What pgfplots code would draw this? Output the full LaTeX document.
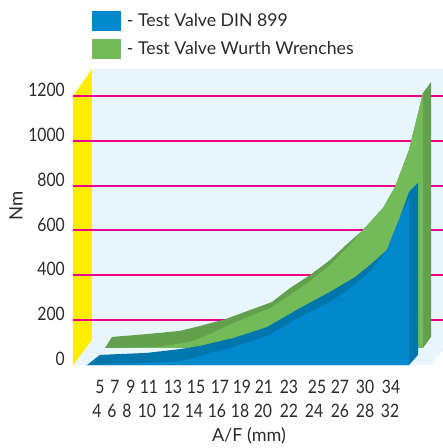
\documentclass[border=0pt]{standalone}
\usepackage{pgfplots}
\pgfplotsset{compat=1.18}
\usepackage{fontspec}
\setmainfont{Lato}
\newfontfamily\narrowf[FakeStretch=0.85]{Lato}
\definecolor{bgc}{HTML}{E8F5FD}
\definecolor{wallc}{HTML}{FFED00}
\definecolor{gridc}{HTML}{EC008C}
\definecolor{bluef}{HTML}{0088CC}
\definecolor{blued}{HTML}{0076AD}
\definecolor{greenf}{HTML}{72BB58}
\definecolor{greend}{HTML}{62A04D}
\definecolor{txt}{HTML}{2A2A2A}
\begin{document}
\begin{tikzpicture}[x=1pt,y=1pt]
\useasboundingbox (0,0) rectangle (443,448);
\begin{axis}[
  at={(73pt,83pt)}, anchor=south west,
  scale only axis, width=370pt, height=296pt,
  xmin=73, xmax=443, ymin=0, ymax=1320,
  axis line style={draw=none}, major tick length=0pt,
  clip=false,
  /pgf/number format/assume math mode=true,
  /pgf/number format/1000 sep={},
  ytick={0,200,400,600,800,1000,1200},
  yticklabel style={font=\narrowf\fontsize{18.5}{18.5}\selectfont, text=txt, anchor=east, xshift=-8pt, yshift=6pt, inner sep=0pt},
  xtick={100,115,131,149,173,196,220,242,264,289,317,340,365,391},
  xticklabels={5,7,9,11,13,15,17,19,21,23,25,27,30,34},
  extra x ticks={97,112,127,147,171,194,217,240,263,289,314,340,365,390},
  extra x tick labels={4,6,8,10,12,14,16,18,20,22,24,26,28,32},
  extra x tick style={xticklabel style={yshift=-24pt}},
  xticklabel style={font=\narrowf\fontsize{18.5}{18.5}\selectfont, text=txt, anchor=center, yshift=-22pt, inner sep=0pt},
  xlabel={A/F (mm)},
  xlabel style={font=\fontsize{18}{18}\selectfont, text=txt, at={(axis cs:249,0)}, anchor=center, yshift=-71pt, inner sep=0pt},
  ylabel={Nm},
  ylabel style={font=\fontsize{18.5}{18.5}\selectfont, text=txt, at={(axis cs:16,711)}, anchor=center, rotate=0, inner sep=0pt},
  legend style={at={(axis cs:92,1579)}, anchor=north west, draw=none, fill=none, inner sep=0pt, outer sep=0pt,
    font=\fontsize{17.7}{17.7}\selectfont, text=txt, row sep=8pt,
    nodes={inner sep=0pt, outer sep=0pt}},
  legend cell align=left,
  legend image code/.code={\fill[#1,draw=none] (0pt,-10pt) rectangle (29pt,10pt);},
]
\addlegendimage{bluef}
\addlegendentry{\hspace*{6pt}- Test Valve DIN 899}
\addlegendimage{greenf}
\addlegendentry{\hspace*{6pt}- Test Valve Wurth Wrenches}
% backdrop
\addplot[fill=bgc,draw=none,forget plot] coordinates {(92,1320)(443,1320)(443,67)(432,0)(73,0)(92,111)(92,1320)};
\addplot[fill=wallc,draw=none,forget plot] coordinates {(73,0)(73,1200)(92,1320)(92,111)(73,0)};
% gridlines
\addplot[color=gridc,line width=2pt,forget plot] coordinates {(73,200)(443,200)};
\addplot[color=gridc,line width=2pt,forget plot] coordinates {(73,400)(443,400)};
\addplot[color=gridc,line width=2pt,forget plot] coordinates {(73,600)(443,600)};
\addplot[color=gridc,line width=2pt,forget plot] coordinates {(73,800)(443,800)};
\addplot[color=gridc,line width=2pt,forget plot] coordinates {(73,1000)(443,1000)};
\addplot[color=gridc,line width=2pt,forget plot] coordinates {(73,1200)(443,1200)};
% green series
\addplot[fill=greend,draw=none,forget plot] coordinates {(105,76)(112,125)(147,138)(180,152)(200,174)(225,204)(250,245)(272,281)(290,343)(310,401)(330,468)(345,531)(363,602)(383,700)(395,794)(409,959)(423,1213)(431,1262)(431,125)(423,76)(105,76)};
\addplot[fill=greenf,draw=none,forget plot] coordinates {(105,76)(157,80)(190,103)(200,120)(210,138)(233,187)(270,254)(290,312)(310,375)(330,446)(347,522)(363,602)(383,700)(395,794)(409,959)(423,1213)(423,76)(105,76)};
% blue series
\addplot[fill=blued,draw=none,forget plot] coordinates {(87,0)(100,45)(147,54)(180,71)(200,85)(233,120)(267,169)(300,254)(330,326)(355,392)(370,446)(387,513)(400,660)(409,772)(418,812)(418,45)(409,0)(87,0)};
\addplot[fill=bluef,draw=none,forget plot] coordinates {(87,0)(147,9)(180,18)(200,40)(233,80)(267,129)(300,214)(330,281)(348,334)(370,415)(383,491)(387,513)(400,660)(409,745)(409,0)(87,0)};
\end{axis}
\end{tikzpicture}
\end{document}
